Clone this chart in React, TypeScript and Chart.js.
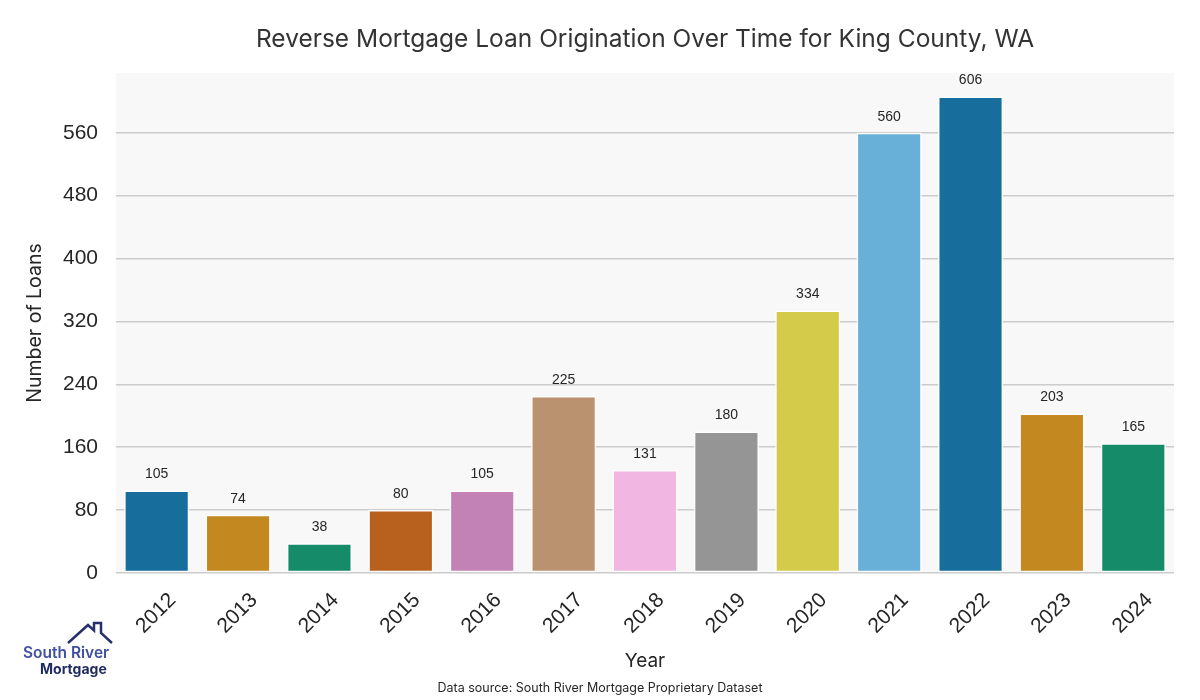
import React, { useEffect, useRef } from "react";
import { Chart, registerables } from "chart.js";

Chart.register(...registerables);

const years = ["2012", "2013", "2014", "2015", "2016", "2017", "2018", "2019", "2020", "2021", "2022", "2023", "2024"];
const loans = [105, 74, 38, 80, 105, 225, 131, 180, 334, 560, 606, 203, 165];
const barColors = [
  "#176d9c", "#c38820", "#158b6a", "#b8611e", "#c282b6", "#bb9270", "#f1b7e2",
  "#959595", "#d5cb4a", "#68b0d8", "#176d9c", "#c38820", "#158b6a",
];
const yTicks = [0, 80, 160, 240, 320, 400, 480, 560];
const titleText = "Reverse Mortgage Loan Origination Over Time for King County, WA";
const sourceText = "Data source: South River Mortgage Proprietary Dataset";

const bgPlugin = {
  id: "bgPlugin",
  beforeDraw(chart: any) {
    const { ctx, chartArea } = chart;
    ctx.save();
    ctx.fillStyle = "#f8f8f8";
    ctx.fillRect(chartArea.left, chartArea.top, chartArea.right - chartArea.left, chartArea.bottom - chartArea.top);
    ctx.restore();
  },
};

const labelPlugin = {
  id: "labelPlugin",
  afterDatasetsDraw(chart: any) {
    const { ctx } = chart;
    const meta = chart.getDatasetMeta(0);
    ctx.save();
    ctx.font = "14px 'Liberation Sans', Arial, sans-serif";
    ctx.fillStyle = "#262626";
    ctx.textAlign = "center";
    ctx.textBaseline = "bottom";
    meta.data.forEach((el: any, i: number) => {
      ctx.fillText(String(loans[i]), el.x, el.y - 9);
    });
    ctx.restore();
  },
  afterDraw(chart: any) {
    const { ctx, chartArea } = chart;
    ctx.save();
    ctx.fillStyle = "#333333";
    ctx.textAlign = "center";
    ctx.textBaseline = "middle";
    ctx.font = "24.5px Inter, 'Noto Sans', sans-serif";
    ctx.fillText(titleText, (chartArea.left + chartArea.right) / 2, 40);
    ctx.font = "12.5px Inter, 'Noto Sans', sans-serif";
    ctx.fillStyle = "#262626";
    ctx.fillText(sourceText, 600, 688);
    ctx.restore();
  },
};

export default function App() {
  const ref = useRef<HTMLCanvasElement | null>(null);
  useEffect(() => {
    if (!ref.current) return;
    const chart = new Chart(ref.current, {
      type: "bar",
      data: {
        labels: years,
        datasets: [
          {
            data: loans,
            backgroundColor: barColors,
            borderColor: "#ffffff",
            borderWidth: 1.5,
            borderSkipped: false,
            barPercentage: 0.8,
            categoryPercentage: 1,
          },
        ],
      },
      options: {
        animation: false,
        responsive: false,
        devicePixelRatio: 1,
        layout: { padding: { left: 0, right: 26, top: 73, bottom: 0 } },
        plugins: { legend: { display: false }, tooltip: { enabled: false }, title: { display: false } },
        scales: {
          x: {
            grid: { display: false },
            border: { display: false },
            ticks: {
              minRotation: 45,
              maxRotation: 45,
              labelOffset: 16,
              padding: 7,
              color: "#262626",
              font: { family: "'Liberation Sans', Arial, sans-serif", size: 21 },
            },
            title: {
              display: true,
              text: "Year",
              color: "#262626",
              font: { family: "Inter, 'Noto Sans', sans-serif", size: 19 },
              padding: { top: 0, bottom: 27 },
            },
            afterFit(scale: any) {
              scale.height = 127;
            },
          },
          y: {
            min: 0,
            max: 636,
            grid: { color: "#cccccc", lineWidth: 1.5, drawTicks: false },
            border: { display: false },
            ticks: {
              stepSize: 80,
              padding: 18,
              color: "#262626",
              font: { family: "'Liberation Sans', Arial, sans-serif", size: 21 },
            },
            afterBuildTicks(scale: any) {
              scale.ticks = yTicks.map((v) => ({ value: v }));
            },
            title: {
              display: true,
              text: "Number of Loans",
              color: "#262626",
              font: { family: "Inter, 'Noto Sans', sans-serif", size: 19.5 },
              padding: { top: 23, bottom: 0 },
            },
            afterFit(scale: any) {
              scale.width = 116;
            },
          },
        },
      } as any,
      plugins: [bgPlugin, labelPlugin],
    });
    return () => chart.destroy();
  }, []);

  return (
    <div style={{ position: "absolute", left: 0, top: 0, width: 1200, height: 700, background: "#ffffff" }}>
      <canvas ref={ref} width={1200} height={700} style={{ width: 1200, height: 700, display: "block" }} />
      <div style={{ position: "absolute", left: 20, top: 620, width: 100, height: 60 }}>
        <svg width="100" height="30" style={{ position: "absolute", left: 0, top: 0 }}>
          <polyline
            points="48,23 68,5 74,10.5 74,3 81,3 81,13 92,23"
            fill="none"
            stroke="#27306a"
            strokeWidth="2.5"
            strokeLinejoin="miter"
          />
        </svg>
        <div
          style={{
            position: "absolute",
            left: 3,
            top: 24,
            fontFamily: "Inter, 'Noto Sans', sans-serif",
            fontWeight: 600,
            fontSize: 15.5,
            lineHeight: "17px",
            color: "#3e51a1",
            whiteSpace: "nowrap",
          }}
        >
          South River
        </div>
        <div
          style={{
            position: "absolute",
            left: 20,
            top: 41,
            fontFamily: "Inter, 'Noto Sans', sans-serif",
            fontWeight: 700,
            fontSize: 14,
            lineHeight: "16px",
            color: "#1f2a5e",
            whiteSpace: "nowrap",
          }}
        >
          Mortgage
        </div>
      </div>
    </div>
  );
}
